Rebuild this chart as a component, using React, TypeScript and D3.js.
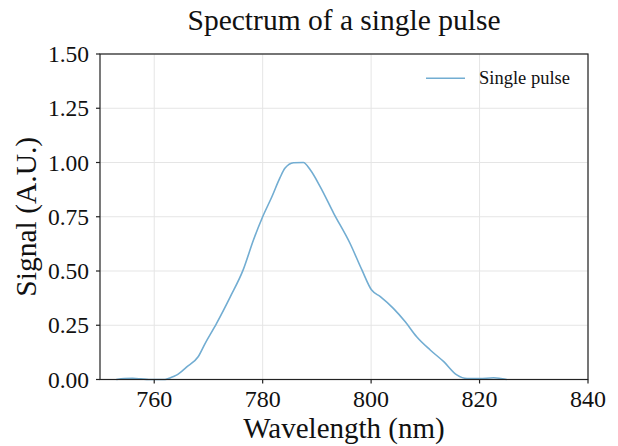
import React from "react";
import * as d3 from "d3";

const wavelengths = [753, 754.5, 756, 757.5, 759, 762, 763, 764.1, 765.9, 768.1, 769.4, 771.5, 774, 776.4, 778.3, 780, 781.7, 783.2, 784.1, 785.7, 787.5, 788.8, 790.6, 793.1, 796.1, 798.3, 800.1, 801.7, 804.1, 806.3, 808.4, 810.9, 813.4, 815.8, 817.7, 820, 822.6, 825];
const signal = [0, 0.004, 0.005, 0.003, 0, 0, 0.008, 0.02, 0.056, 0.105, 0.167, 0.259, 0.38, 0.505, 0.643, 0.75, 0.842, 0.93, 0.973, 0.999, 1.0, 0.965, 0.889, 0.766, 0.628, 0.505, 0.412, 0.382, 0.328, 0.266, 0.197, 0.136, 0.082, 0.021, 0.004, 0.004, 0.008, 0];
const xTicks = [760, 780, 800, 820, 840];
const yTicks = [0, 0.25, 0.5, 0.75, 1.0, 1.25, 1.5];
const seriesName = "Single pulse";

const W = 618, H = 446;
const left = 100, right = 588, top = 54, bottom = 379.5;
const font = "'Liberation Serif', 'Times New Roman', serif";

export default function App() {
  const x = d3.scaleLinear().domain([750, 840]).range([left, right]);
  const y = d3.scaleLinear().domain([0, 1.5]).range([bottom, top]);
  const pts = wavelengths.map((w, i) => [w, signal[i]] as [number, number]);
  const line = d3.line<[number, number]>().x(d => x(d[0])).y(d => y(d[1])).curve(d3.curveMonotoneX);
  const path = line(pts) || "";
  return (
    <svg width={W} height={H} style={{ position: "absolute", left: 0, top: 0, background: "#fff" }} fontFamily={font}>
      <rect x={0} y={0} width={W} height={H} fill="#fff" />
      {xTicks.map(t => (
        <line key={"gx" + t} x1={x(t)} x2={x(t)} y1={top} y2={bottom} stroke="#e5e5e5" strokeWidth={1} />
      ))}
      {yTicks.map(t => (
        <line key={"gy" + t} x1={left} x2={right} y1={y(t)} y2={y(t)} stroke="#e5e5e5" strokeWidth={1} />
      ))}
      <path d={path} fill="none" stroke="#72add2" strokeWidth={1.6} />
      <rect x={left} y={top} width={right - left} height={bottom - top} fill="none" stroke="#222" strokeWidth={1.2} />
      {xTicks.map(t => (
        <g key={"tx" + t}>
          <line x1={x(t)} x2={x(t)} y1={bottom} y2={bottom + 4} stroke="#222" strokeWidth={1.2} />
          <text x={x(t)} y={407} textAnchor="middle" fontSize={24} fill="#111">{t}</text>
        </g>
      ))}
      {yTicks.map(t => (
        <g key={"ty" + t}>
          <line x1={left - 4} x2={left} y1={y(t)} y2={y(t)} stroke="#222" strokeWidth={1.2} />
          <text x={89} y={y(t)} dy="0.35em" textAnchor="end" fontSize={23.5} fill="#111">{t.toFixed(2)}</text>
        </g>
      ))}
      <text x={(left + right) / 2} y={438} textAnchor="middle" fontSize={29} fill="#111">Wavelength (nm)</text>
      <text transform={`translate(35.5, ${(top + bottom) / 2}) rotate(-90)`} textAnchor="middle" fontSize={29.5} fill="#111">Signal (A.U.)</text>
      <text x={(left + right) / 2} y={30} textAnchor="middle" fontSize={29.5} fill="#111">Spectrum of a single pulse</text>
      <line x1={426} x2={465} y1={78.3} y2={78.3} stroke="#72add2" strokeWidth={1.6} />
      <text x={479} y={84} fontSize={18.5} fill="#111">{seriesName}</text>
    </svg>
  );
}
